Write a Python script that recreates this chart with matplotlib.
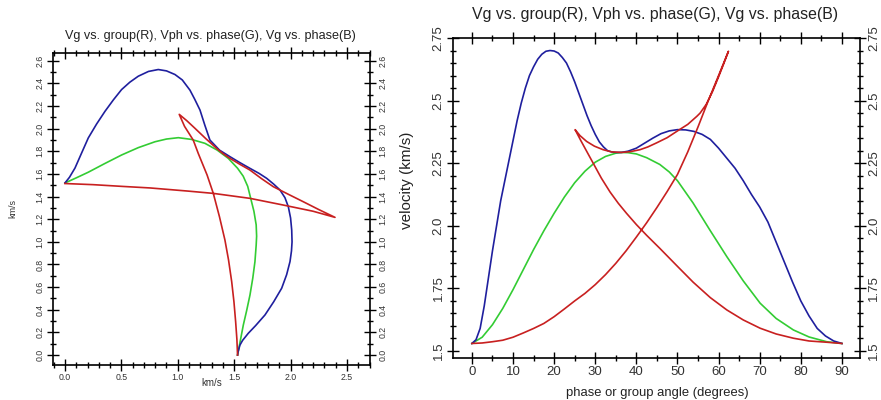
import matplotlib
matplotlib.use("Agg")
import matplotlib.pyplot as plt
from matplotlib.ticker import MultipleLocator, FixedLocator, FixedFormatter, FormatStrFormatter

plt.rcParams['font.family'] = ['Liberation Sans', 'DejaVu Sans']

# ---------------- data: left panel (wave surfaces, km/s) ----------------
blue_lx = [0.0, 0.04, 0.089, 0.15, 0.207, 0.28, 0.355, 0.43, 0.502, 0.575, 0.65, 0.74, 0.827,
           0.9, 0.975, 1.04, 1.108, 1.15, 1.197, 1.24, 1.285, 1.37, 1.463, 1.55, 1.64, 1.72,
           1.788, 1.85, 1.906, 1.95, 1.98, 2.0, 2.01, 2.013, 2.008, 1.995, 1.965, 1.921, 1.85,
           1.773, 1.69, 1.625, 1.575, 1.551, 1.535, 1.53]
blue_ly = [1.52, 1.57, 1.652, 1.79, 1.918, 2.04, 2.153, 2.255, 2.345, 2.41, 2.463, 2.505, 2.522,
           2.51, 2.478, 2.43, 2.34, 2.26, 2.164, 2.03, 1.899, 1.81, 1.752, 1.70, 1.649, 1.605,
           1.561, 1.51, 1.458, 1.39, 1.31, 1.21, 1.104, 1.0, 0.92, 0.826, 0.71, 0.59, 0.47,
           0.354, 0.26, 0.192, 0.13, 0.088, 0.03, 0.0]

green_lx = [0.0, 0.1, 0.207, 0.35, 0.502, 0.65, 0.798, 0.9, 1.005, 1.12, 1.241, 1.35, 1.448,
            1.53, 1.58, 1.62, 1.645, 1.675, 1.695, 1.699, 1.695, 1.684, 1.665, 1.64, 1.61,
            1.581, 1.555, 1.53]
green_ly = [1.52, 1.565, 1.615, 1.69, 1.767, 1.832, 1.884, 1.908, 1.92, 1.905, 1.87, 1.81, 1.737,
            1.65, 1.58, 1.49, 1.39, 1.27, 1.15, 1.05, 0.97, 0.824, 0.68, 0.53, 0.39,
            0.265, 0.13, 0.0]

red_lx = [0.0, 0.25, 0.502, 0.754, 1.093, 1.315, 1.64, 1.935, 2.2, 2.394,
          2.25, 2.113, 1.98, 1.847, 1.74, 1.64, 1.55, 1.463, 1.40, 1.345, 1.25, 1.15, 1.08, 1.013,
          1.06, 1.137, 1.182, 1.26, 1.315, 1.37, 1.418, 1.45, 1.478, 1.498, 1.513, 1.524, 1.53]
red_ly = [1.515, 1.505, 1.49, 1.476, 1.448, 1.428, 1.384, 1.325, 1.27, 1.216,
          1.285, 1.354, 1.42, 1.487, 1.56, 1.634, 1.685, 1.737, 1.78, 1.825, 1.91, 2.005, 2.07, 2.126,
          2.02, 1.899, 1.78, 1.59, 1.428, 1.22, 1.016, 0.84, 0.648, 0.47, 0.294, 0.14, 0.0]

# ---------------- data: right panel (velocity vs angle) ----------------
blue_ang = [0, 1, 2, 3, 4, 5, 6, 7, 8, 9, 10, 11, 12, 13, 14, 15, 16, 17, 18, 19, 20, 21, 22, 23,
            24, 25, 26, 27, 28, 29, 30, 31, 32, 33, 34, 35, 36.4, 38, 40, 42, 44, 46, 48, 50, 52,
            54, 56, 58, 60, 62, 64, 66, 68, 70, 72, 74, 76, 78, 80, 82, 84, 86, 88, 90]
blue_v = [1.53, 1.545, 1.59, 1.68, 1.79, 1.90, 2.00, 2.10, 2.18, 2.26, 2.34, 2.42, 2.49, 2.55,
          2.60, 2.635, 2.665, 2.685, 2.697, 2.70, 2.698, 2.69, 2.672, 2.65, 2.615, 2.575, 2.53,
          2.485, 2.44, 2.40, 2.365, 2.335, 2.315, 2.30, 2.295, 2.293, 2.293, 2.298, 2.31, 2.33,
          2.35, 2.368, 2.379, 2.384, 2.383, 2.377, 2.365, 2.345, 2.31, 2.27, 2.23, 2.18, 2.125,
          2.075, 2.015, 1.935, 1.855, 1.775, 1.70, 1.64, 1.59, 1.56, 1.54, 1.53]

green_ang = [0, 2.5, 5, 7.5, 10, 12.5, 15, 17.5, 20, 22.5, 25, 27.5, 30, 32.5, 35, 36.4, 38, 40,
             42.5, 45.7, 48, 50, 53.8, 58, 62, 66, 70.1, 74, 78.2, 82, 86.3, 90]
green_v = [1.53, 1.555, 1.605, 1.67, 1.745, 1.825, 1.905, 1.98, 2.05, 2.115, 2.172, 2.218, 2.254,
           2.277, 2.29, 2.293, 2.292, 2.287, 2.272, 2.245, 2.215, 2.18, 2.091, 1.98, 1.877, 1.78,
           1.691, 1.63, 1.584, 1.556, 1.537, 1.53]

red_ang = [0, 2.5, 5, 7.5, 10, 12.5, 15, 17.5, 20, 22.5, 25, 27.5, 30, 32.5, 35, 37.5, 40, 42.5,
           45, 47.5, 50, 52.5, 55, 57.5, 60, 62.4,
           61.2, 60, 58.5, 57, 55.5, 54.7, 52.5, 50.2, 47.5, 44.9, 42.8, 40.9, 38.5, 36.4, 34,
           31.9, 29.8, 27.9, 26.3, 25.1,
           26.5, 27.5, 29.5, 31.5, 33.6, 35.6, 37.6, 40, 42.5, 45.7, 50, 53.8, 58, 62, 66, 70.1,
           74, 78.2, 82, 86.3, 90]
red_v = [1.53, 1.532, 1.537, 1.543, 1.555, 1.572, 1.59, 1.61, 1.637, 1.668, 1.70, 1.73, 1.765,
         1.805, 1.85, 1.90, 1.955, 2.012, 2.073, 2.137, 2.205, 2.295, 2.395, 2.50, 2.60, 2.697,
         2.645, 2.595, 2.535, 2.485, 2.45, 2.437, 2.405, 2.381, 2.352, 2.331, 2.315, 2.304, 2.296,
         2.293, 2.295, 2.304, 2.318, 2.337, 2.36, 2.384,
         2.34, 2.31, 2.25, 2.19, 2.135, 2.09, 2.05, 2.005, 1.962, 1.91, 1.838, 1.775, 1.713,
         1.664, 1.624, 1.591, 1.568, 1.551, 1.54, 1.535, 1.53]

# tick labels
left_xticks = [0.0, 0.5, 1.0, 1.5, 2.0, 2.5]
left_yticks = [0.0, 0.2, 0.4, 0.6, 0.8, 1.0, 1.2, 1.4, 1.6, 1.8, 2.0, 2.2, 2.4, 2.6]
right_xticks = [0, 10, 20, 30, 40, 50, 60, 70, 80, 90]
right_yticks = [1.5, 1.75, 2.0, 2.25, 2.5, 2.75]
right_ylabels = ['1.5', '1.75', '2.0', '2.25', '2.5', '2.75']

title_text = 'Vg vs. group(R), Vph vs. phase(G), Vg vs. phase(B)'

BLUE = '#1f1f9e'
GREEN = '#33cc33'
RED = '#c82020'
LW = 1.2
TICKC = '#333333'

fig = plt.figure(figsize=(8.81, 4.0), dpi=100)
ax1 = fig.add_axes([53 / 881, 35 / 400, 317 / 881, 312 / 400])
ax2 = fig.add_axes([453 / 881, 42 / 400, 407 / 881, 320 / 400])

# ---- left panel ----
ax1.plot(green_lx, green_ly, color=GREEN, lw=LW)
ax1.plot(blue_lx, blue_ly, color=BLUE, lw=LW)
ax1.plot(red_lx, red_ly, color=RED, lw=LW)
ax1.set_xlim(-0.106, 2.704)
ax1.set_ylim(-0.088, 2.668)
ax1.xaxis.set_major_locator(FixedLocator(left_xticks))
ax1.xaxis.set_minor_locator(MultipleLocator(0.1))
ax1.yaxis.set_major_locator(FixedLocator(left_yticks))
ax1.yaxis.set_minor_locator(MultipleLocator(0.1))
ax1.xaxis.set_major_formatter(FormatStrFormatter('%.1f'))
ax1.yaxis.set_major_formatter(FormatStrFormatter('%.1f'))
ax1.tick_params(which='both', direction='inout', top=True, right=True, labelright=True,
                width=1.0, colors='black', labelcolor=TICKC)
ax1.tick_params(which='major', length=8, labelsize=6.3, pad=2)
ax1.tick_params(which='minor', length=5)
ax1.tick_params(axis='y', labelrotation=90)
for lab in ax1.get_yticklabels():
    lab.set_va('center')
ax1.set_xlabel('km/s', fontsize=7, color=TICKC, va='center')
ax1.xaxis.set_label_coords(0.5016, -0.0577)
ax1.set_ylabel('km/s', fontsize=6.5, color=TICKC, va='center')
ax1.yaxis.set_label_coords(-0.126, 0.5)
ax1.text(0.498, 1.054, title_text, transform=ax1.transAxes, ha='center', va='center',
         fontsize=9.1, color='#222222')
for s in ax1.spines.values():
    s.set_linewidth(1.2)

# ---- right panel ----
ax2.plot(green_ang, green_v, color=GREEN, lw=LW)
ax2.plot(blue_ang, blue_v, color=BLUE, lw=LW)
ax2.plot(red_ang, red_v, color=RED, lw=LW)
ax2.set_xlim(-4.6, 94.4)
ax2.set_ylim(1.472, 2.75)
ax2.xaxis.set_major_locator(FixedLocator(right_xticks))
ax2.xaxis.set_minor_locator(MultipleLocator(5))
ax2.yaxis.set_major_locator(FixedLocator(right_yticks))
ax2.yaxis.set_major_formatter(FixedFormatter(right_ylabels))
ax2.yaxis.set_minor_locator(MultipleLocator(0.05))
ax2.tick_params(which='both', direction='inout', top=True, right=True, labelright=True,
                width=1.0, colors='black', labelcolor=TICKC)
ax2.tick_params(which='major', length=8, labelsize=9.5, pad=2)
ax2.tick_params(which='minor', length=5)
ax2.tick_params(axis='y', labelrotation=90)
for lab in ax2.get_yticklabels():
    lab.set_va('center')
ax2.set_xlabel('phase or group angle (degrees)', fontsize=9.4, color='#222222', va='center')
ax2.xaxis.set_label_coords(0.501, -0.109)
ax2.set_ylabel('velocity (km/s)', fontsize=11, color='#222222', va='center')
ax2.yaxis.set_label_coords(-0.113, 0.556)
ax2.text(0.496, 1.072, title_text, transform=ax2.transAxes, ha='center', va='center',
         fontsize=11.4, color='#222222')
for s in ax2.spines.values():
    s.set_linewidth(1.2)

fig.savefig('out.png', dpi=100)
